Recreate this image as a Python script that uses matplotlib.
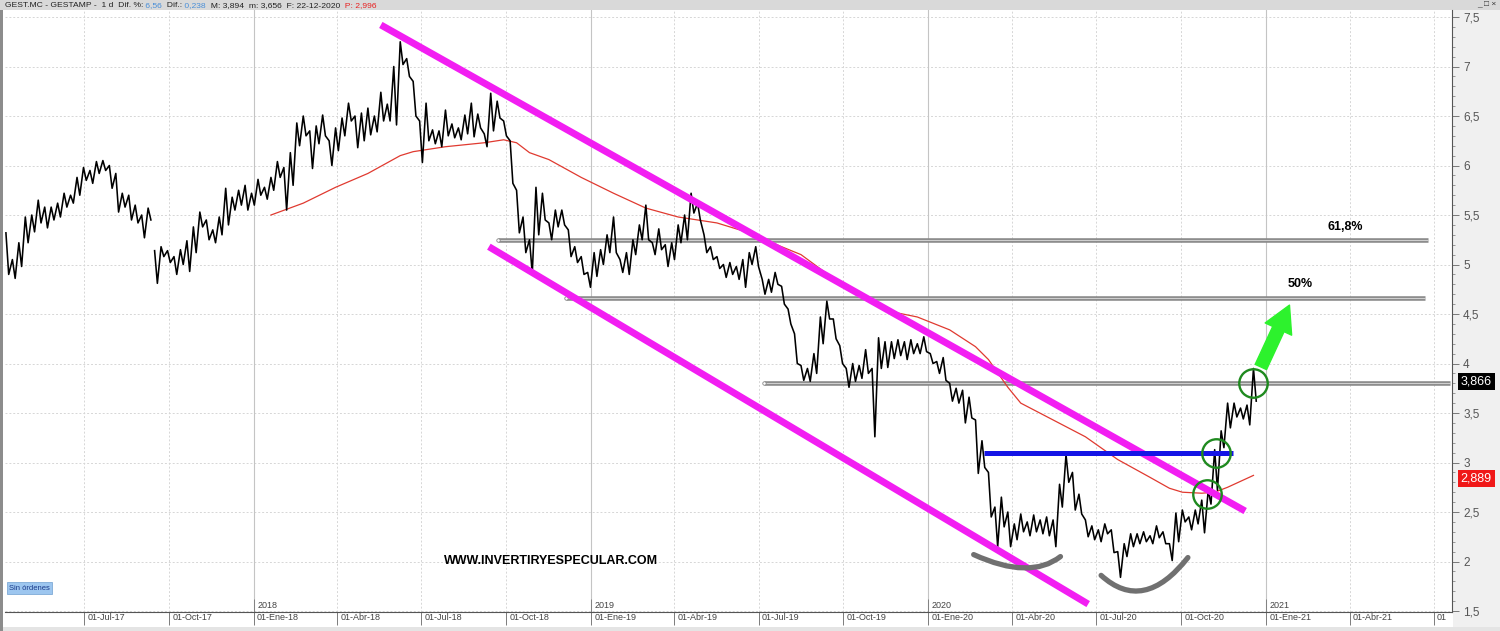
import numpy as np
import pandas as pd
import matplotlib
matplotlib.use('Agg')
import matplotlib.pyplot as plt
import matplotlib.dates as mdates
from matplotlib.ticker import MultipleLocator, FuncFormatter
from matplotlib.patches import Rectangle, PathPatch, FancyArrowPatch
from matplotlib.path import Path
from matplotlib.transforms import ScaledTranslation, blended_transform_factory

plt.rcParams['font.family'] = ['Liberation Sans', 'DejaVu Sans']

# weekly high / low, first week starts 07-Apr-2017
start_week = '2017-04-07'
wk_hi = [5.32, 5.05, 5.22, 5.48, 5.50, 5.65, 5.58, 5.58, 5.62, 5.72,
         5.70, 5.88, 5.98, 5.95, 6.04, 6.05, 6.00, 5.92, 5.72, 5.70,
         5.60, 5.50, 5.57,
         5.14, 5.18, 5.14, 5.08, 5.15, 5.24, 5.38,
         5.53, 5.45, 5.35, 5.48, 5.77, 5.68, 5.75, 5.80, 5.72, 5.86,
         5.78, 5.88, 6.04, 5.98, 6.13, 6.43, 6.50, 6.35, 6.40, 6.51,
         6.25, 6.38, 6.48, 6.63, 6.50, 6.53, 6.58, 6.50, 6.74, 6.62,
         7.00, 7.25, 7.08, 6.85, 6.45, 6.63, 6.36, 6.35, 6.56, 6.42,
         6.38, 6.51, 6.63, 6.52, 6.32, 6.73, 6.65, 6.45, 6.25, 5.75,
         5.48, 5.25, 5.78, 5.72, 5.42, 5.55, 5.55, 5.35, 5.18, 5.08,
         4.92, 5.12, 5.15, 5.30, 5.48, 5.05, 5.12, 5.25, 5.40, 5.60,
         5.22, 5.36, 5.20, 5.22, 5.40, 5.50, 5.72, 5.62, 5.30, 5.18,
         5.08, 5.00, 5.02, 4.98, 5.05, 5.12, 5.18, 4.85, 4.85, 4.92,
         4.78, 4.55, 4.30, 3.98, 3.95, 4.10, 4.47, 4.63, 4.45, 4.18,
         3.95, 4.00, 3.98, 4.14, 3.95, 4.26, 4.22, 4.22, 4.24, 4.22,
         4.24, 4.20, 4.27, 4.10, 4.02, 4.06, 3.80, 3.75, 3.73, 3.66,
         3.43, 3.22, 2.90, 2.55, 2.65, 2.50, 2.38, 2.48, 2.40, 2.47,
         2.42, 2.45, 2.42, 2.78, 3.08, 2.90, 2.68, 2.42, 2.36, 2.32,
         2.38, 2.32, 2.10, 2.18, 2.28, 2.28, 2.30, 2.26, 2.36, 2.30,
         2.18, 2.49, 2.52, 2.45, 2.52, 2.62, 2.72, 3.13, 3.32, 3.60,
         3.60, 3.55, 3.58, 3.95]
wk_lo = [4.90, 4.86, 4.98, 5.22, 5.33, 5.42, 5.37, 5.45, 5.48, 5.58,
         5.62, 5.70, 5.85, 5.82, 5.92, 5.95, 5.77, 5.53, 5.58, 5.45,
         5.42, 5.27, 5.45,
         4.81, 5.08, 5.02, 4.90, 5.00, 4.93, 5.12,
         5.38, 5.25, 5.22, 5.30, 5.40, 5.55, 5.60, 5.55, 5.60, 5.70,
         5.66, 5.75, 5.88, 5.55, 5.80, 6.20, 6.30, 5.97, 6.22, 6.30,
         6.00, 6.15, 6.30, 6.45, 6.18, 6.25, 6.31, 6.34, 6.45, 6.45,
         6.41, 7.02, 6.90, 6.50, 6.03, 6.25, 6.22, 6.19, 6.30, 6.28,
         6.26, 6.32, 6.29, 6.38, 6.19, 6.35, 6.48, 6.30, 5.82, 5.32,
         5.12, 4.91, 5.30, 5.45, 5.25, 5.38, 5.40, 5.08, 5.02, 4.90,
         4.77, 4.88, 5.00, 5.12, 5.12, 4.92, 4.90, 5.10, 5.25, 5.25,
         5.10, 5.15, 4.98, 5.05, 5.22, 5.25, 5.52, 5.45, 5.12, 5.05,
         4.96, 4.87, 4.90, 4.85, 4.77, 5.00, 4.98, 4.70, 4.72, 4.80,
         4.60, 4.40, 4.00, 3.83, 3.82, 3.90, 4.20, 4.45, 4.25, 4.00,
         3.76, 3.82, 3.85, 3.90, 3.26, 3.95, 3.96, 4.05, 4.08, 4.04,
         4.10, 4.10, 4.12, 4.00, 3.90, 3.83, 3.62, 3.60, 3.40, 3.45,
         2.89, 2.95, 2.45, 2.15, 2.35, 2.15, 2.22, 2.30, 2.26, 2.30,
         2.28, 2.26, 2.15, 2.55, 2.80, 2.52, 2.48, 2.25, 2.22, 2.20,
         2.28, 2.09, 1.84, 2.05, 2.15, 2.18, 2.20, 2.18, 2.24, 2.18,
         2.01, 2.20, 2.40, 2.32, 2.38, 2.29, 2.58, 2.72, 3.15, 3.35,
         3.46, 3.44, 3.38, 3.62]
gap_at = 23  # series jumps here (adjusted data), line is broken

# red moving average, sampled at some weeks
ma_wk = [41, 46, 51, 56, 61, 63, 68, 74, 77, 79,
         81, 84, 89, 94, 99, 104, 110, 115, 120, 123,
         128, 133, 138, 141, 146, 150, 152, 155, 157, 162,
         167, 172, 177, 180, 182, 185, 187, 189, 193]
ma_val = [5.50, 5.62, 5.78, 5.92, 6.10, 6.14, 6.19, 6.23, 6.26, 6.23,
          6.13, 6.06, 5.88, 5.72, 5.57, 5.48, 5.42, 5.32, 5.18, 5.10,
          4.86, 4.65, 4.51, 4.47, 4.34, 4.17, 4.04, 3.76, 3.60, 3.43,
          3.26, 3.03, 2.85, 2.74, 2.70, 2.69, 2.70, 2.75, 2.87]

last_px = 3.866
ma_last = 2.889

# hand drawn stuff on the chart
chan_top_d = ['2018-05-18', '2020-12-09']
chan_top_p = [7.42, 2.51]
chan_bot_d = ['2018-09-12', '2020-06-22']
chan_bot_p = [5.18, 1.57]

fib_p = [5.25, 4.66, 3.80]
fib_start = ['2018-09-22', '2018-12-04', '2019-07-07']
fib_end = ['2021-06-25', '2021-06-22', '2021-07-19']
fib_lbl = ['61,8%', '50%']
fib_lbl_d = ['2021-03-27', '2021-02-07']
fib_lbl_p = [5.38, 4.80]

neck_d = ['2020-03-01', '2020-11-26']
neck_p = 3.10

circ_d = ['2020-10-29', '2020-11-07', '2020-12-18']
circ_p = [2.68, 3.10, 3.80]

arrow_d = ['2020-12-26', '2021-01-26']
arrow_p = [3.965, 4.59]

arc1_d = ['2020-02-19', '2020-04-20', '2020-05-23']
arc1_p = [2.07, 1.81, 2.05]
arc2_d = ['2020-07-06', '2020-08-21', '2020-10-08']
arc2_p = [1.86, 1.47, 2.04]

web_txt = 'WWW.INVERTIRYESPECULAR.COM'
web_d = '2018-11-18'
web_p = 2.005

tick_dates = ['2017-07-01', '2017-10-01', '2018-01-01', '2018-04-01', '2018-07-01',
              '2018-10-01', '2019-01-01', '2019-04-01', '2019-07-01', '2019-10-01',
              '2020-01-01', '2020-04-01', '2020-07-01', '2020-10-01', '2021-01-01',
              '2021-04-01', '2021-07-01']
tick_lbls = ['01-Jul-17', '01-Oct-17', '01-Ene-18', '01-Abr-18', '01-Jul-18',
             '01-Oct-18', '01-Ene-19', '01-Abr-19', '01-Jul-19', '01-Oct-19',
             '01-Ene-20', '01-Abr-20', '01-Jul-20', '01-Oct-20', '01-Ene-21',
             '01-Abr-21', '01']
year_dates = ['2018-01-01', '2019-01-01', '2020-01-01', '2021-01-01']
year_lbls = ['2018', '2019', '2020', '2021']

header = [('GEST.MC - GESTAMP -  1 d  Dif. %:', '#222222'),
          (' 6,56', '#4a8fd8'),
          ('  Dif.:', '#222222'),
          (' 0,238', '#4a8fd8'),
          ('  M: 3,894  m: 3,656  F: 22-12-2020', '#222222'),
          ('  P: 2,996', '#e82020')]


def dn(d):
    return mdates.date2num(pd.to_datetime(d))


fig = plt.figure(figsize=(15, 6.31), dpi=100)
fig.patch.set_facecolor('white')
# window bits around the plot (behind the axes)
fig.patches.append(Rectangle((1453/1500, 0), 47/1500, 621/631, transform=fig.transFigure,
                             fc='#f0f0f0', ec='none', zorder=-1))
fig.patches.append(Rectangle((0, 621/631), 1, 10/631, transform=fig.transFigure,
                             fc='#d9d9d9', ec='none', zorder=-1))
fig.patches.append(Rectangle((0, 0), 1, 4/631, transform=fig.transFigure,
                             fc='#e4e4e4', ec='none', zorder=-1))
fig.patches.append(Rectangle((0, 0), 2.5/1500, 621/631, transform=fig.transFigure,
                             fc='#8c8c8c', ec='none', zorder=-1))

ax = fig.add_axes([5/1500, 19/631, 1447/1500, 602/631])
ax.set_facecolor('white')
ax.set_xlim(dn('2017-04-06'), dn('2021-07-21'))
ax.set_ylim(1.49, 7.571)

# price (zigzag through weekly high/low)
wn = mdates.date2num(pd.date_range(start_week, periods=len(wk_hi), freq='7D'))
xs = np.column_stack([wn, wn + 3]).ravel()
ys = np.column_stack([wk_hi, wk_lo]).ravel()
k = 2 * gap_at
ax.plot(xs[:k], ys[:k], color='black', lw=1.15, zorder=2.5)
ax.plot(xs[k:], ys[k:], color='black', lw=1.15, zorder=2.5)

# moving average
ax.plot(wn[ma_wk], ma_val, color='#e03a30', lw=0.9, zorder=2)

# fibo levels (double grey look)
for p, a, b in zip(fib_p, fib_start, fib_end):
    ax.plot([dn(a), dn(b)], [p, p], color='#8a8a8a', lw=3.3, solid_capstyle='butt', zorder=1.8)
    ax.plot([dn(a), dn(b)], [p, p], color='#cfcfcf', lw=0.8, zorder=1.9)
    ax.plot(dn(a), p, 'o', ms=2.5, mfc='white', mec='#888888', mew=0.6, zorder=2)
for s, d, p in zip(fib_lbl, fib_lbl_d, fib_lbl_p):
    ax.text(dn(d), p, s, fontsize=9, fontweight='bold', ha='center', va='center', zorder=6)

# channel
ax.plot([dn(d) for d in chan_top_d], chan_top_p, color='#f21ef2', lw=5, solid_capstyle='butt', zorder=3)
ax.plot([dn(d) for d in chan_bot_d], chan_bot_p, color='#f21ef2', lw=5, solid_capstyle='butt', zorder=3)

# neckline
ax.plot([dn(d) for d in neck_d], [neck_p, neck_p], color='#1414e6', lw=3.6, solid_capstyle='butt', zorder=3)

# the two bottoms
for dd, pp in [(arc1_d, arc1_p), (arc2_d, arc2_p)]:
    verts = [(dn(d), p) for d, p in zip(dd, pp)]
    ax.add_patch(PathPatch(Path(verts, [Path.MOVETO, Path.CURVE3, Path.CURVE3]),
                           fill=False, ec='#707070', lw=3.8, capstyle='round', zorder=3))

# breakout circles
ax.plot([dn(d) for d in circ_d], circ_p, 'o', ms=20.5, mfc='none', mec='#1f8a1f', mew=1.7, zorder=4)

# green arrow
ax.add_patch(FancyArrowPatch((dn(arrow_d[0]), arrow_p[0]), (dn(arrow_d[1]), arrow_p[1]),
                             arrowstyle='simple,head_width=1.05,head_length=0.95,tail_width=0.45',
                             mutation_scale=20, color='#2df22d', shrinkA=0, shrinkB=0, zorder=4))

ax.text(dn(web_d), web_p, web_txt, fontsize=9, fontweight='bold', ha='center', va='center', zorder=6)

# grid
ax.grid(axis='both', which='major', color='#d6d6d6', ls=(0, (2, 2)), lw=0.7, zorder=0.5)
ax.set_axisbelow(True)
for d in year_dates:
    ax.axvline(dn(d), color='#c4c4c4', lw=0.8, zorder=0.6)

for s in ['top', 'left']:
    ax.spines[s].set_visible(False)
for s in ['right', 'bottom']:
    ax.spines[s].set_color('#555555')
    ax.spines[s].set_linewidth(0.8)

# y axis on the right, comma decimals
ax.yaxis.tick_right()
ax.yaxis.set_major_locator(MultipleLocator(0.5))
ax.yaxis.set_minor_locator(MultipleLocator(0.1))
ax.yaxis.set_major_formatter(FuncFormatter(lambda v, pos: ('%g' % v).replace('.', ',')))
ax.tick_params(axis='y', which='major', length=5, width=0.6, color='#666666',
               labelsize=8.5, labelcolor='#555555', pad=3)
ax.tick_params(axis='y', which='minor', length=2.5, width=0.5, color='#777777')

# x axis: label to the right of each tick
ax.set_xticks([dn(d) for d in tick_dates])
ax.set_xticklabels(tick_lbls, ha='left', fontsize=6.5, color='#444444')
ax.tick_params(axis='x', which='major', length=9, width=0.6, color='#666666', pad=-8.5)
ax.tick_params(axis='x', which='minor', length=0)
off = ScaledTranslation(2/72, 0, fig.dpi_scale_trans)
for lab in ax.get_xticklabels():
    lab.set_transform(lab.get_transform() + off)

tr_x = blended_transform_factory(ax.transData, ax.transAxes)
for d, s in zip(year_dates, year_lbls):
    ax.vlines(dn(d), 0, 0.022, transform=tr_x, color='#777777', lw=0.6)
    ax.text(dn(d), 0.004, s, transform=tr_x + off, fontsize=6.5, color='#444444',
            ha='left', va='bottom')

# price tags on the axis (sit a few px under the level, like the platform does)
tr_y = blended_transform_factory(ax.transAxes, ax.transData) + ScaledTranslation(0, -3.5/72, fig.dpi_scale_trans)
ax.text(1.006, last_px, ('%.3f' % last_px).replace('.', ','), transform=tr_y, color='white',
        fontsize=9, va='center', ha='left', clip_on=False, zorder=10,
        bbox=dict(boxstyle='square,pad=0.22', fc='black', ec='none'))
ax.text(1.006, ma_last, ('%.3f' % ma_last).replace('.', ','), transform=tr_y, color='white',
        fontsize=9, va='center', ha='left', clip_on=False, zorder=10,
        bbox=dict(boxstyle='square,pad=0.22', fc='#f01818', ec='none'))

# header line
renderer = fig.canvas.get_renderer()
xpos = 5
for s, c in header:
    t = fig.text(xpos/1500, 1 - 5.5/631, s, color=c, fontsize=6.1, va='center', ha='left')
    xpos += t.get_window_extent(renderer).width
fig.text(1 - 4/1500, 1 - 5/631, '_ \u25a1 \u00d7', fontsize=6, ha='right', va='center', color='#333333')

fig.text(9/1500, 1 - 588/631, 'Sin órdenes', fontsize=5.5, color='#1a3a8a', va='center', ha='left',
         bbox=dict(boxstyle='square,pad=0.3', fc='#9dc6ef', ec='#6f9fd0', lw=0.5))

fig.savefig('out.png', dpi=100)
